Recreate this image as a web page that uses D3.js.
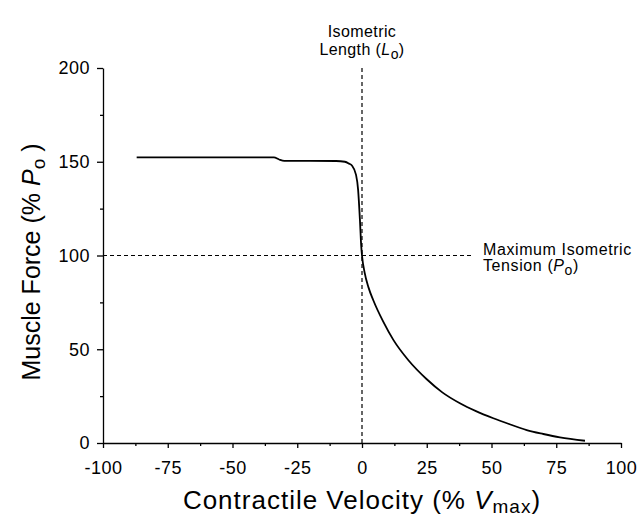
<!DOCTYPE html>
<html>
<head>
<meta charset="utf-8">
<script src="https://cdn.jsdelivr.net/npm/d3@7"></script>
<style>
  body { margin: 0; background: #fff; }
  svg { font-family: "Liberation Sans", Arial, sans-serif; }
</style>
</head>
<body>
<div id="chart"></div>
<script>
// velocity (% Vmax) and force (% Po)
const velocity = [-87, -34, -32, -30, -10, -6.6, -5, -3.9, -2.3, -1.5, -0.8, -0.3, 0,
  1, 2.5, 4.4, 8.2, 12.1, 18, 25, 31, 37.8, 44, 50.7, 57, 63.6, 70, 76.4, 86.1];
const force = [152.3, 152.3, 151.2, 150.5, 150.4, 150, 149, 148, 143, 135, 119, 105, 100,
  91, 83, 76, 64.7, 55, 44, 34, 27, 21.2, 17, 13.2, 10, 6.9, 4.8, 3, 1.2];

const xTicks = [-100, -75, -50, -25, 0, 25, 50, 75, 100];
const xMinor = [-87.5, -62.5, -37.5, -12.5, 12.5, 37.5, 62.5, 87.5];
const yTicks = [0, 50, 100, 150, 200];
const yMinor = [25, 75, 125, 175];

const width = 641;
const height = 520;
const margin = { top: 68, right: 20, bottom: 77, left: 103 };

const svg = d3.select('#chart')
  .append('svg')
  .attr('width', width)
  .attr('height', height);

const x = d3.scaleLinear()
  .domain([-100, 100])
  .range([margin.left, 621]);

const y = d3.scaleLinear()
  .domain([0, 200])
  .range([height - margin.bottom, margin.top]);

// reference lines
svg.append('line')
  .attr('x1', x(0)).attr('x2', x(0))
  .attr('y1', y(0)).attr('y2', 68)
  .attr('stroke', '#000').attr('stroke-width', 1.2)
  .attr('stroke-dasharray', '4,3');

svg.append('line')
  .attr('x1', x(-100)).attr('x2', 472)
  .attr('y1', y(100)).attr('y2', y(100))
  .attr('stroke', '#000').attr('stroke-width', 1.2)
  .attr('stroke-dasharray', '4,3');

// axes
function styleAxis(g) {
  g.select('.domain').attr('stroke-width', 1.3);
  g.selectAll('.tick line').attr('stroke-width', 1.3);
  g.selectAll('.tick text').attr('font-size', '18px').attr('fill', '#000')
    .attr('letter-spacing', '0.5px');
}

svg.append('g')
  .attr('transform', `translate(0,${y(0)})`)
  .call(d3.axisBottom(x).tickValues(xMinor).tickSize(3).tickFormat('').tickSizeOuter(0))
  .call(g => g.select('.domain').remove())
  .call(styleAxis);

svg.append('g')
  .attr('transform', `translate(0,${y(0)})`)
  .call(d3.axisBottom(x).tickValues(xTicks).tickSize(5).tickPadding(13).tickSizeOuter(0)
    .tickFormat(d => String(d)))
  .call(styleAxis);

svg.append('g')
  .attr('transform', `translate(${x(-100)},0)`)
  .call(d3.axisLeft(y).tickValues(yMinor).tickSize(3).tickFormat('').tickSizeOuter(0))
  .call(g => g.select('.domain').remove())
  .call(styleAxis);

svg.append('g')
  .attr('transform', `translate(${x(-100)},0)`)
  .call(d3.axisLeft(y).tickValues(yTicks).tickSize(6).tickPadding(7).tickSizeOuter(0))
  .call(styleAxis);

// force-velocity curve
const line = d3.line()
  .x((d, i) => x(velocity[i]))
  .y(d => y(d))
  .curve(d3.curveMonotoneX);

svg.append('path')
  .datum(force)
  .attr('d', line)
  .attr('fill', 'none')
  .attr('stroke', '#000')
  .attr('stroke-width', 1.8);

// annotations
const t1 = svg.append('text')
  .attr('text-anchor', 'middle')
  .attr('font-size', '16px')
  .attr('letter-spacing', '0.4px');
t1.append('tspan').attr('x', x(0)).attr('y', 37).text('Isometric');
const t1b = t1.append('tspan').attr('x', x(0)).attr('y', 55);
t1b.append('tspan').text('Length (');
t1b.append('tspan').attr('font-style', 'italic').text('L');
t1b.append('tspan').attr('font-size', '14px').attr('dy', 4).text('o');
t1b.append('tspan').attr('dy', -4).text(')');

const t2 = svg.append('text')
  .attr('font-size', '16px')
  .attr('letter-spacing', '0.6px');
t2.append('tspan').attr('x', 483).attr('y', 255).text('Maximum Isometric');
const t2b = t2.append('tspan').attr('x', 483).attr('y', 271);
t2b.append('tspan').text('Tension (');
t2b.append('tspan').attr('font-style', 'italic').text('P');
t2b.append('tspan').attr('font-size', '14px').attr('dy', 4).text('o');
t2b.append('tspan').attr('dy', -4).text(')');

// axis titles
const xl = svg.append('text')
  .attr('x', x(0))
  .attr('y', 509)
  .attr('text-anchor', 'middle')
  .attr('font-size', '26px')
  .attr('letter-spacing', '1px');
xl.append('tspan').text('Contractile Velocity (% ');
xl.append('tspan').attr('font-style', 'italic').text('V');
xl.append('tspan').attr('font-size', '19px').attr('dy', 4).text('max');
xl.append('tspan').attr('dy', -4).text(')');

const yl = svg.append('text')
  .attr('transform', `translate(40,262) rotate(-90)`)
  .attr('text-anchor', 'middle')
  .attr('font-size', '25px');
yl.append('tspan').text('Muscle Force (% ');
yl.append('tspan').attr('font-style', 'italic').text('P');
yl.append('tspan').attr('font-size', '19px').attr('dy', 5).text('o');
yl.append('tspan').attr('dy', -5).text(' )');
</script>
</body>
</html>
